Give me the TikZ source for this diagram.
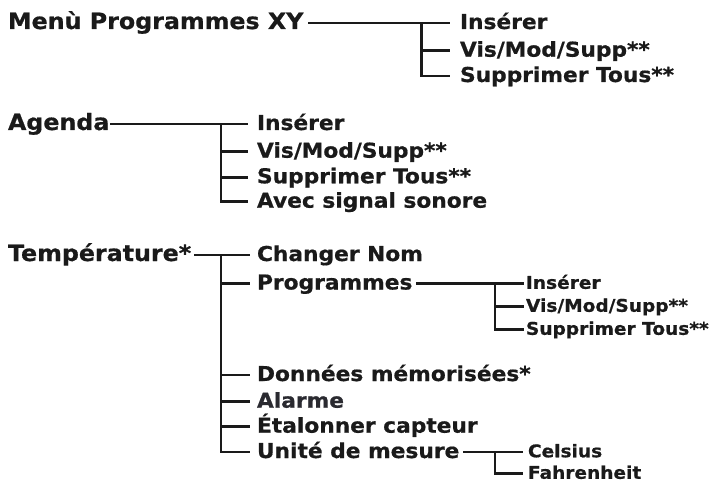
\documentclass[tikz,border=0pt]{standalone}
\usepackage{fontspec}
\newfontfamily\vb{DejaVu Sans}[FakeStretch=1.06,BoldFeatures={FakeStretch=1.06,FakeBold=0.7}]
\definecolor{ink}{HTML}{1A1A1A}
\definecolor{inkb}{HTML}{2A2A30}
\tikzset{
  base/.style={anchor=west,inner sep=0pt,outer sep=0pt,text depth=0pt,text=ink},
  lvlone/.style={base,font=\vb\bfseries\fontsize{22.4}{22}\selectfont,text height=12pt},
  lvltwo/.style={base,font=\vb\bfseries\fontsize{20.5}{20.5}\selectfont,text height=12pt},
  lvlthree/.style={base,font=\vb\bfseries\fontsize{17.5}{17.5}\selectfont,text height=10.6pt},
  conn/.style={draw=ink,line width=2.8pt},
}
\begin{document}
\begin{tikzpicture}[x=1pt,y=-1pt]
\useasboundingbox (0,0) rectangle (720,481);
% --- Menu Programmes XY
\node[lvlone] (m) at (8,23) {Menù Programmes XY};
\node[lvltwo] (m1) at (460,23) {Insérer};
\node[lvltwo] (m2) at (460,50.7) {Vis/Mod/Supp**};
\node[lvltwo] (m3) at (460,76) {Supprimer Tous**};
\coordinate (mj) at (421.7,0);
\coordinate (mb) at (450,0);
\draw[conn] ([xshift=5pt]m.east) -- (mb |- m1.west);
\draw[conn] (mj |- m1.west) |- (mb |- m3.west);
\draw[conn] (mj |- m2.west) -- (mb |- m2.west);
% --- Agenda
\node[lvlone] (a) at (8,124) {Agenda};
\node[lvltwo] (a1) at (257,124) {Insérer};
\node[lvltwo] (a2) at (257,151.7) {Vis/Mod/Supp**};
\node[lvltwo] (a3) at (257,177.3) {Supprimer Tous**};
\node[lvltwo] (a4) at (257,201.7) {Avec signal sonore};
\coordinate (aj) at (221,0);
\coordinate (ab) at (248,0);
\draw[conn] ([xshift=1pt]a.east) -- (ab |- a1.west);
\draw[conn] (aj |- a1.west) |- (ab |- a4.west);
\draw[conn] (aj |- a2.west) -- (ab |- a2.west);
\draw[conn] (aj |- a3.west) -- (ab |- a3.west);
% --- Temperature
\node[lvlone] (t) at (8,255) {Température*};
\node[lvltwo] (t1) at (257,255) {Changer Nom};
\node[lvltwo] (t2) at (257,283.5) {Programmes};
\node[lvltwo] (t3) at (257,375) {Données mémorisées*};
\node[lvltwo,text=inkb] (t4) at (257,401.7) {Alarme};
\node[lvltwo] (t5) at (257,426.7) {Étalonner capteur};
\node[lvltwo] (t6) at (257,452) {Unité de mesure};
\coordinate (tj) at (221,0);
\coordinate (tb) at (250,0);
\draw[conn] ([xshift=3pt]t.east) -- (tb |- t1.west);
\draw[conn] (tj |- t1.west) |- (tb |- t6.west);
\foreach \c in {t2,t3,t4,t5} \draw[conn] (tj |- \c.west) -- (tb |- \c.west);
% --- Programmes
\node[lvlthree] (p1) at (526,283.5) {Insérer};
\node[lvlthree] (p2) at (526,306.5) {Vis/Mod/Supp**};
\node[lvlthree] (p3) at (526,329.5) {Supprimer Tous**};
\coordinate (pj) at (495,0);
\coordinate (pb) at (523.5,0);
\draw[conn] ([xshift=4pt]t2.east) -- (pb |- p1.west);
\draw[conn] (pj |- p1.west) |- (pb |- p3.west);
\draw[conn] (pj |- p2.west) -- (pb |- p2.west);
% --- Unite de mesure
\node[lvlthree] (u1) at (528,452) {Celsius};
\node[lvlthree] (u2) at (528,473.5) {Fahrenheit};
\coordinate (uj) at (495,0);
\coordinate (ub) at (523,0);
\draw[conn] ([xshift=4pt]t6.east) -- (ub |- u1.west);
\draw[conn] (uj |- u1.west) |- (ub |- u2.west);
\end{tikzpicture}
\end{document}
